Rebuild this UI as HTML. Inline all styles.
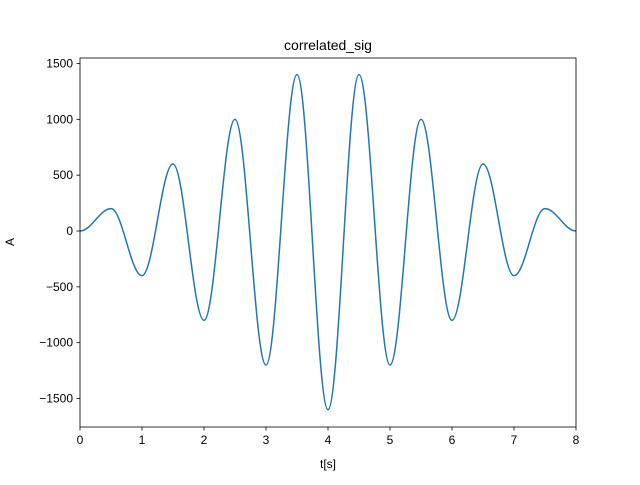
<!DOCTYPE html>
<html><head><meta charset="utf-8"><style>
body{margin:0;background:#fff;}
svg text{font-family:"Liberation Sans","DejaVu Sans",sans-serif;font-size:12px;fill:#000;}
</style></head><body>
<svg width="640" height="480">
<rect width="640" height="480" fill="#fff"/>
<g id="axes"></g>
<path id="line" fill="none" stroke="#1f77b4" stroke-width="1.5"/>
<rect x="80" y="58" width="496" height="369" fill="none" stroke="#000" stroke-width="0.8"/>
<text x="328" y="50" text-anchor="middle" style="font-size:14px">correlated_sig</text>
<text x="328" y="468" text-anchor="middle">t[s]</text>
<text x="14" y="242" text-anchor="middle" transform="rotate(-90 14 242)">A</text>
</svg>
<script>
const times=[0,0.5,1,1.5,2,2.5,3,3.5,4,4.5,5,5.5,6,6.5,7,7.5,8];
const values=[0,200,-400,600,-800,1000,-1200,1400,-1600,1400,-1200,1000,-800,600,-400,200,0];
const xTicks=[0,1,2,3,4,5,6,7,8];
const yTicks=[-1500,-1000,-500,0,500,1000,1500];
const L=80,R=576,T=58,B=427,xMin=0,xMax=8,yMin=-1755,yMax=1549;
const sx=v=>L+(v-xMin)/(xMax-xMin)*(R-L);
const sy=v=>B-(v-yMin)/(yMax-yMin)*(B-T);
const NS='http://www.w3.org/2000/svg';
const g=document.getElementById('axes');
xTicks.forEach(t=>{
  const l=document.createElementNS(NS,'line');
  l.setAttribute('x1',sx(t));l.setAttribute('x2',sx(t));l.setAttribute('y1',B);l.setAttribute('y2',B+3.5);l.setAttribute('stroke','#000');l.setAttribute('stroke-width','0.8');
  
  
  g.appendChild(l);
  const s=document.createElementNS(NS,'text');
  s.setAttribute('x',sx(t));s.setAttribute('y',B+17);s.setAttribute('text-anchor','middle');s.textContent=t;
  
  
  g.appendChild(s);
});
yTicks.forEach(t=>{
  const l=document.createElementNS(NS,'line');
  l.setAttribute('x1',L-3.5);l.setAttribute('x2',L);l.setAttribute('y1',sy(t));l.setAttribute('y2',sy(t));l.setAttribute('stroke','#000');l.setAttribute('stroke-width','0.8');
  
  
  g.appendChild(l);
  const s=document.createElementNS(NS,'text');
  s.setAttribute('x',L-7);s.setAttribute('y',sy(t)+4);s.setAttribute('text-anchor','end');s.textContent=t<0?'\u2212'+(-t):t;
  
  
  g.appendChild(s);
});
let d='M'+sx(times[0])+','+sy(values[0]);
for(let i=1;i<times.length;i++){
  const x0=sx(times[i-1]),x1=sx(times[i]),y0=sy(values[i-1]),y1=sy(values[i]);
  const k=(x1-x0)*0.364;
  d+=' C'+(x0+k)+','+y0+' '+(x1-k)+','+y1+' '+x1+','+y1;
}
document.getElementById('line').setAttribute('d',d);
</script>
</body></html>
